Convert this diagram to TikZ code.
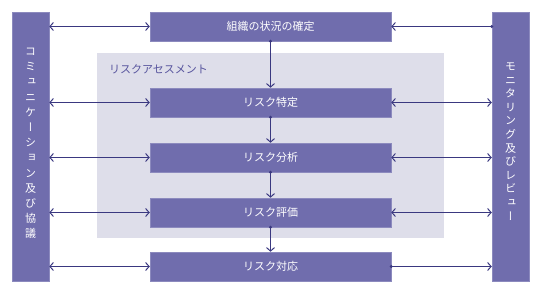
\documentclass[tikz,border=0pt]{standalone}
\usepackage{fontspec}
\usetikzlibrary{arrows.meta}
\newfontfamily\jp{Noto Sans CJK JP}
\newfontfamily\jpv[RawFeature=+vert]{Noto Sans CJK JP}
\definecolor{boxc}{RGB}{112,109,173}
\definecolor{boxe}{RGB}{140,138,190}
\definecolor{arrc}{RGB}{58,56,128}
\definecolor{grayc}{RGB}{222,222,234}
\definecolor{labc}{RGB}{88,85,158}
\begin{document}
\begin{tikzpicture}[x=1pt,y=-1pt,
  stepbox/.style={fill=boxc, draw=boxe, line width=0.5pt, minimum width=241pt, minimum height=29pt, inner sep=0pt, text=white, font=\jp\fontsize{11}{13}\selectfont},
  sidebar/.style={fill=boxc, draw=boxe, line width=0.5pt, minimum width=37pt, minimum height=269pt, inner sep=0pt},
  vtext/.style={text=white, align=center, inner sep=0pt},
  conn/.style={draw=arrc, line width=1pt},
  dbl/.style={conn, {Straight Barb[length=3.5pt,width=8pt]}-{Straight Barb[length=3.5pt,width=8pt]}},
  sgl/.style={conn, -{Straight Barb[length=3.5pt,width=8pt]}},
  dot/.style={circle, fill=arrc, inner sep=0pt, minimum size=3.2pt}
]
\useasboundingbox (0,0) rectangle (541,296);
% assessment region
\node[fill=grayc, minimum width=347pt, minimum height=185pt, inner sep=0pt] (assess) at (270.5,145.5) {};
\node[anchor=west, text=labc, font=\jp\fontsize{11}{13}\selectfont, inner sep=0pt] (assesslab) at (109,69) {リスクアセスメント};
% side bars
\node[sidebar] (lbar) at (30.5,146.5) {};
\node[sidebar] (rbar) at (510.5,146.5) {};
\node[vtext, font=\jpv\fontsize{11}{15.2}\selectfont] (ltext) at (30.5,143.5) {コ\\ミ\\ュ\\ニ\\ケ\\ー\\シ\\ョ\\ン\\及\\び\\協\\議};
\node[vtext, font=\jpv\fontsize{11}{13.6}\selectfont] (rtext) at (510.5,141.5) {モ\\ニ\\タ\\リ\\ン\\グ\\及\\び\\レ\\ビ\\ュ\\ー};
% steps
\node[stepbox] (ctx) at (270.5,26.5) {組織の状況の確定};
\node[stepbox] (ident) at (270.5,102.5) {リスク特定};
\node[stepbox] (anal) at (270.5,157.5) {リスク分析};
\node[stepbox] (eval) at (270.5,212.5) {リスク評価};
\node[stepbox] (resp) at (270.5,266.5) {リスク対応};
% vertical flow
\foreach \a/\b in {ctx/ident, ident/anal, anal/eval, eval/resp}{
  \draw[sgl] (\a.south) -- (\b.north);
  \node[dot] at (\a.south) {};
}
% left connectors
\foreach \n in {ctx, ident, anal, eval, resp}{
  \draw[dbl] (lbar.east |- \n.west) -- (\n.west);
}
% right connectors
\draw[sgl] (rbar.west |- ctx.east) -- (ctx.east);
\node[dot] at (rbar.west |- ctx.east) {};
\foreach \n in {ident, anal, eval}{
  \draw[dbl] (\n.east) -- (rbar.west |- \n.east);
}
\draw[sgl] (resp.east) -- (rbar.west |- resp.east);
\node[dot] at (resp.east) {};
\end{tikzpicture}
\end{document}
